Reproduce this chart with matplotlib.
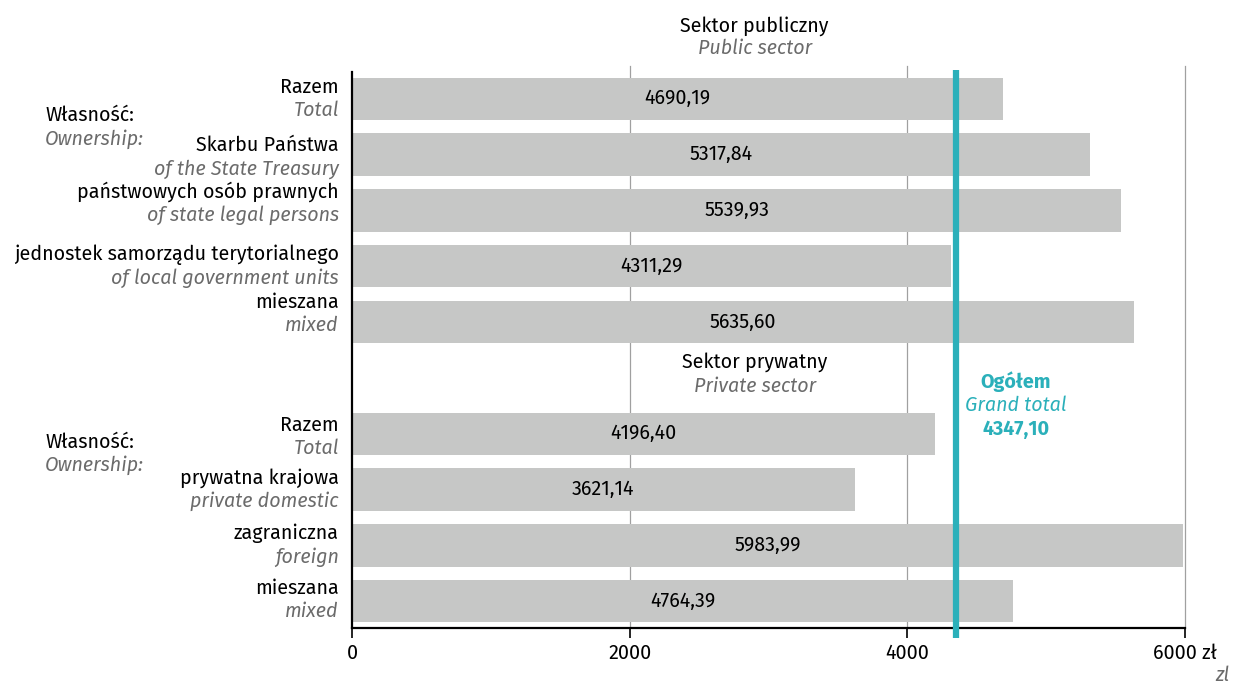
import numpy as np
import matplotlib.pyplot as plt

plt.rcParams['font.family'] = ['Fira Sans', 'Noto Sans', 'DejaVu Sans']

# data
labels_pl = ["Razem", "Skarbu Państwa", "państwowych osób prawnych",
             "jednostek samorządu terytorialnego", "mieszana",
             "Razem", "prywatna krajowa", "zagraniczna", "mieszana"]
labels_en = ["Total", "of the State Treasury", "of state legal persons",
             "of local government units", "mixed",
             "Total", "private domestic", "foreign", "mixed"]
values = [4690.19, 5317.84, 5539.93, 4311.29, 5635.60,
          4196.40, 3621.14, 5983.99, 4764.39]
value_labels = ["4690,19", "5317,84", "5539,93", "4311,29", "5635,60",
                "4196,40", "3621,14", "5983,99", "4764,39"]
positions = [0, 1, 2, 3, 4, 6, 7, 8, 9]
grand_total = 4347.10
grand_total_label = "4347,10"
xticks = [0, 2000, 4000, 6000]
xtick_labels = ["0", "2000", "4000", "6000 zł"]

# small label nudges (in row units) to mimic the original placement
label_dy = [0.0, 0.05, -0.12, 0.0, -0.15, 0.05, 0.0, 0.0, -0.03]

BAR = "#c6c7c6"
TEAL = "#2bb0ba"
GRAY = "#6b6b6b"
FS = 14.2

fig = plt.figure(figsize=(12.34, 6.86), dpi=100)
ax = fig.add_axes([352 / 1234, 1 - 628 / 686, 833 / 1234, 556 / 686])

ax.barh(positions, values, height=0.76, color=BAR, zorder=2)
ax.set_xlim(0, 6000)
ax.set_ylim(9.48, -0.48)

for x in xticks[1:]:
    ax.axvline(x, color="#a0a0a0", lw=0.9, zorder=1, ymax=1.01, clip_on=False)
ax.plot([grand_total, grand_total], [9.66, -0.52], color=TEAL, lw=4.5,
        zorder=3, clip_on=False, solid_capstyle="butt")

for sp in ["top", "right"]:
    ax.spines[sp].set_visible(False)
ax.spines["left"].set_linewidth(1.6)
ax.spines["bottom"].set_linewidth(1.6)
ax.set_yticks([])
ax.set_xticks(xticks)
ax.set_xticklabels(xtick_labels, fontsize=FS)
ax.tick_params(axis="x", length=7, width=1.2, pad=4)

for p, v, lab in zip(positions, values, value_labels):
    ax.text(v / 2, p, lab, ha="center", va="center", fontsize=FS, zorder=4)

for p, pl, en, dy in zip(positions, labels_pl, labels_en, label_dy):
    ax.text(-95, p + dy - 0.21, pl, ha="right", va="center", fontsize=FS)
    ax.text(-95, p + dy + 0.21, en, ha="right", va="center", fontsize=FS,
            style="italic", color=GRAY)

for y0 in [0.1, 5.95]:
    ax.text(-2210, y0 + 0.2, "Własność:", ha="left", va="center", fontsize=FS)
    ax.text(-2210, y0 + 0.62, "Ownership:", ha="left", va="center",
            fontsize=FS, style="italic", color=GRAY)

ax.text(2900, -1.3, "Sektor publiczny", ha="center", va="center", fontsize=FS)
ax.text(2900, -0.9, "Public sector", ha="center", va="center", fontsize=FS,
        style="italic", color=GRAY)
ax.text(2900, 4.72, "Sektor prywatny", ha="center", va="center", fontsize=FS)
ax.text(2900, 5.15, "Private sector", ha="center", va="center", fontsize=FS,
        style="italic", color=GRAY)

ax.text(4780, 5.07, "Ogółem", ha="center", va="center", fontsize=FS,
        color=TEAL, weight="bold")
ax.text(4780, 5.5, "Grand total", ha="center", va="center", fontsize=FS,
        color=TEAL, style="italic")
ax.text(4780, 5.93, grand_total_label, ha="center", va="center", fontsize=FS,
        color=TEAL, weight="bold")

fig.text(1229 / 1234, 1 - 675 / 686, "zl", ha="right", va="center",
         fontsize=FS, style="italic", color=GRAY)

fig.savefig("out.png", dpi=100)
